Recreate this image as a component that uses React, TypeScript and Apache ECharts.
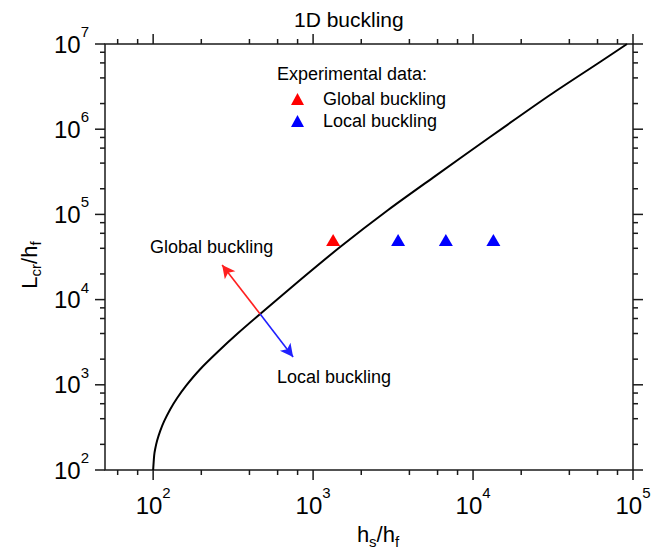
import React, { useEffect, useRef } from 'react';
import * as echarts from 'echarts';

// Theoretical critical length curve
const curveX = [100, 101.5, 102.9, 105.9, 110.6, 117.2, 127.7, 141.3, 160.8, 196.7, 254.8, 339.9, 466.5, 829.5, 1475, 2943, 5623, 12770, 30280, 62200, 91730];
const curveY = [100, 148.8, 175.4, 221.3, 286.1, 373.9, 514.4, 700, 979, 1524, 2459, 4045, 6776, 16980, 41430, 112600, 270400, 810000, 2519000, 6148000, 10000000];

// Experimental data
const globalX = [1334];
const globalY = [50000];
const localX = [3400, 6760, 13400];
const localY = [50000, 50000, 50000];

// Arrows (start at the curve, end at the tip)
const arrowStart = [466.5, 6776];
const globalArrowEnd = [270, 25500];
const localArrowEnd = [750, 2120];

// Annotation anchors
const annotationNames = ['Global buckling', 'Local buckling'];
const annotationX = [232, 1352];
const annotationY = [41400, 1235];

// Axes
const XMIN = 50;
const XMAX = 100000;
const YMIN = 100;
const YMAX = 10000000;
const xMajorTicks = [100, 1000, 10000, 100000];
const yMajorTicks = [100, 1000, 10000, 100000, 1000000, 10000000];
const minorMultipliers = [2, 4, 6, 8];
const decadeStarts = [10, 100, 1000, 10000, 100000, 1000000];

const minorTicks = (lo: number, hi: number) => {
  const out: number[] = [];
  decadeStarts.forEach((d) => minorMultipliers.forEach((m) => {
    const v = d * m;
    if (v > lo && v < hi) out.push(v);
  }));
  return out;
};
const xMinorTicks = minorTicks(XMIN, XMAX);
const yMinorTicks = minorTicks(YMIN, YMAX);

const FONT = 'Liberation Sans, Arial, sans-serif';
const AXIS_COLOR = '#1a1a1a';

const powLabel = (v: number) => {
  const e = Math.log10(v);
  if (Math.abs(e - Math.round(e)) > 1e-6) return '';
  return `{b|10}{s|${Math.round(e)}}`;
};
const powRich = {
  b: { fontSize: 24, lineHeight: 26, height: 26, fontFamily: FONT, color: '#000' },
  s: { fontSize: 15, lineHeight: 1, height: 1, verticalAlign: 'top', fontFamily: FONT, color: '#000' },
};
const subRich = {
  n: { fontSize: 22, lineHeight: 24, height: 24, verticalAlign: 'top', fontFamily: FONT, color: '#000' },
  sub: { fontSize: 15, lineHeight: 11, height: 11, verticalAlign: 'bottom', fontFamily: FONT, color: '#000' },
};

export default function App() {
  const ref = useRef<HTMLDivElement>(null);
  useEffect(() => {
    const chart = echarts.init(ref.current!, null, { renderer: 'svg' });
    const option: any = {
      animation: false,
      backgroundColor: '#fff',
      textStyle: { fontFamily: FONT },
      title: [
        {
          text: '1D buckling',
          left: 289,
          top: 4,
          textStyle: { fontSize: 21, fontWeight: 'normal', color: '#000', fontFamily: FONT },
        },
        {
          text: 'Experimental data:',
          left: 277,
          top: 65,
          padding: 0,
          textStyle: { fontSize: 18, fontWeight: 'normal', color: '#000', fontFamily: FONT },
        },
      ],
      legend: {
        data: ['Global buckling', 'Local buckling'],
        orient: 'vertical',
        left: 291,
        top: 90,
        padding: 0,
        itemWidth: 13,
        itemHeight: 12,
        itemGap: 4,
        selectedMode: false,
        itemStyle: { opacity: 1 },
        textStyle: { fontSize: 18, color: '#000', fontFamily: FONT, padding: [0, 0, 0, 14] },
      },
      grid: {
        left: 105,
        right: 32,
        top: 44,
        bottom: 80,
        containLabel: false,
        outerBoundsMode: 'none',
        show: true,
        borderColor: AXIS_COLOR,
        borderWidth: 1.5,
        backgroundColor: 'transparent',
      },
      xAxis: {
        type: 'log',
        logBase: 10,
        min: XMIN,
        max: XMAX,
        axisLine: { show: false },
        axisTick: { show: false },
        splitLine: { show: false },
        axisLabel: { formatter: powLabel, rich: powRich, margin: 22, showMinLabel: false },
        name: '{n|h}{sub|s}{n|/h}{sub|f}',
        nameLocation: 'middle',
        nameGap: 51,
        nameTextStyle: { rich: subRich, padding: [0, 0, 0, 18] },
      },
      yAxis: {
        type: 'log',
        logBase: 10,
        min: YMIN,
        max: YMAX,
        axisLine: { show: false },
        axisTick: { show: false },
        splitLine: { show: false },
        axisLabel: { formatter: powLabel, rich: powRich, margin: 16 },
        name: '{n|L}{sub|cr}{n|/h}{sub|f}',
        nameLocation: 'middle',
        nameRotate: 90,
        nameGap: 63,
        nameTextStyle: { rich: subRich, padding: [0, 16, 0, 0] },
      },
      series: [
        {
          name: 'curve',
          type: 'line',
          data: curveX.map((x, i) => [x, curveY[i]]),
          showSymbol: false,
          symbol: 'none',
          smooth: 0.25,
          lineStyle: { color: '#000', width: 2 },
          silent: true,
          z: 3,
          markLine: {
            silent: true,
            symbol: ['none', 'arrow'],
            symbolSize: [10, 13],
            label: { show: false },
            data: [
              [
                { coord: arrowStart, lineStyle: { color: '#ff2020', width: 1.6, type: 'solid' } },
                { coord: globalArrowEnd },
              ],
              [
                { coord: arrowStart, lineStyle: { color: '#2020ff', width: 1.6, type: 'solid' } },
                { coord: localArrowEnd },
              ],
            ],
          },
        },
        {
          name: 'Global buckling',
          type: 'scatter',
          data: globalX.map((x, i) => [x, globalY[i]]),
          symbol: 'triangle',
          symbolSize: [14, 12],
          itemStyle: { color: '#ff0000', opacity: 1 },
          z: 4,
        },
        {
          name: 'Local buckling',
          type: 'scatter',
          data: localX.map((x, i) => [x, localY[i]]),
          symbol: 'triangle',
          symbolSize: [14, 12],
          itemStyle: { color: '#0000ff', opacity: 1 },
          z: 4,
        },
        {
          name: 'annotations',
          type: 'scatter',
          data: annotationNames.map((n, i) => ({ name: n, value: [annotationX[i], annotationY[i]] })),
          symbolSize: 0,
          silent: true,
          itemStyle: { color: '#000', opacity: 1 },
          label: {
            show: true,
            position: 'inside',
            formatter: '{b}',
            fontSize: 18,
            color: '#000',
            opacity: 1,
            textBorderWidth: 0,
            textBorderColor: 'transparent',
            fontFamily: FONT,
          },
        },
        {
          name: 'ticks',
          type: 'custom',
          coordinateSystem: 'cartesian2d',
          silent: true,
          clip: false,
          data: [[XMIN, YMIN]],
          encode: { x: 0, y: 1 },
          z: 5,
          renderItem: (_params: any, api: any) => {
            const [x0, y0] = api.coord([XMIN, YMIN]);
            const [x1, y1] = api.coord([XMAX, YMAX]);
            const children: any[] = [];
            const add = (ax: number, ay: number, bx: number, by: number) =>
              children.push({
                type: 'line',
                shape: { x1: ax, y1: ay, x2: bx, y2: by },
                style: { stroke: AXIS_COLOR, lineWidth: 1.5 },
              });
            const xt = (v: number, len: number) => {
              const px = api.coord([v, YMIN])[0];
              add(px, y0, px, y0 + len);
              add(px, y1, px, y1 - len);
            };
            const yt = (v: number, len: number) => {
              const py = api.coord([XMIN, v])[1];
              add(x0, py, x0 - len, py);
              add(x1, py, x1 + len, py);
            };
            xMajorTicks.forEach((v) => xt(v, 10));
            xMinorTicks.forEach((v) => xt(v, 5));
            yMajorTicks.forEach((v) => yt(v, 10));
            yMinorTicks.forEach((v) => yt(v, 5));
            return { type: 'group', children };
          },
        },
      ],
    };
    chart.setOption(option);
    return () => chart.dispose();
  }, []);
  return (
    <div
      ref={ref}
      style={{ position: 'fixed', left: 0, top: 0, width: 665, height: 550 }}
    />
  );
}
